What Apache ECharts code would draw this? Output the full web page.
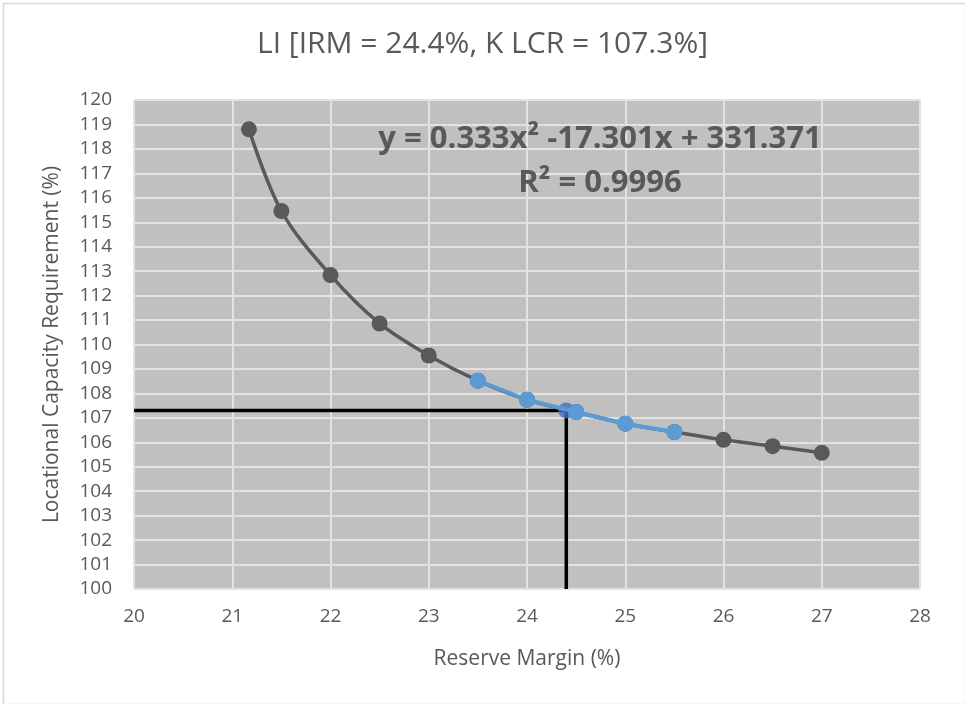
<!DOCTYPE html>
<html><head><meta charset="utf-8">
<script src="https://cdn.jsdelivr.net/npm/echarts@6/dist/echarts.min.js"></script>
<style>html,body{margin:0;padding:0;background:#fff}#c{width:965px;height:704px}</style>
</head><body><div id="c"></div>
<script>
const titleText = 'LI [IRM = 24.4%, K LCR = 107.3%]';
const xAxisName = 'Reserve Margin (%)';
const yAxisName = 'Locational Capacity Requirement (%)';
const reserveMargin = [21.17, 21.5, 22, 22.5, 23, 23.5, 24, 24.5, 25, 25.5, 26, 26.5, 27];
const lcr = [118.8, 115.46, 112.84, 110.86, 109.55, 108.52, 107.74, 107.24, 106.76, 106.42, 106.1, 105.84, 105.57];
const fitRM = [23.5, 24, 24.5, 25, 25.5];
const fitLCR = [108.52, 107.74, 107.24, 106.76, 106.42];
const irm = 24.4;
const kLcr = 107.3;
const xMin = 20, xMax = 28, yMin = 100, yMax = 120;
const eqLine1 = 'y = 0.333x² -17.301x + 331.371';
const eqLine2 = 'R² = 0.9996';

const chart = echarts.init(document.getElementById('c'), null, {renderer: 'canvas'});
const font = 'Open Sans, Noto Sans, sans-serif';
chart.setOption({
  backgroundColor: '#ffffff',
  animation: false,
  title: {
    text: titleText, left: 'center', top: 24,
    textStyle: {fontFamily: font, fontSize: 30, fontWeight: 'normal', color: '#595959'}
  },
  grid: {left: 134, right: 45, top: 100, bottom: 115, show: true, backgroundColor: '#c0c0c0', borderWidth: 0},
  xAxis: {
    type: 'value', min: xMin, max: xMax, interval: 1,
    name: xAxisName, nameLocation: 'middle', nameGap: 60,
    nameTextStyle: {fontFamily: font, fontSize: 21, color: '#595959'},
    axisLine: {show: false}, axisTick: {show: false},
    axisLabel: {fontFamily: font, fontSize: 19, color: '#595959', margin: 18},
    splitLine: {show: true, lineStyle: {color: '#e2e2e2', width: 2}}
  },
  yAxis: {
    type: 'value', min: yMin, max: yMax, interval: 1,
    name: yAxisName, nameLocation: 'middle', nameGap: 71,
    nameTextStyle: {fontFamily: font, fontSize: 21, color: '#595959'},
    axisLine: {show: false}, axisTick: {show: false},
    axisLabel: {fontFamily: font, fontSize: 19, color: '#595959', margin: 22},
    splitLine: {show: true, lineStyle: {color: '#e2e2e2', width: 2}}
  },
  series: [
    {
      type: 'line', name: 'guide', silent: true, symbol: 'none',
      data: [[xMin, kLcr], [irm, kLcr], [irm, yMin]],
      lineStyle: {color: '#000000', width: 3.5}, z: 2
    },
    {
      type: 'line', name: 'LCR', smooth: 0.35, symbol: 'circle', symbolSize: 16,
      data: reserveMargin.map((x, i) => [x, lcr[i]]),
      lineStyle: {color: '#595959', width: 3.5}, itemStyle: {color: '#595959'}, z: 3
    },
    {
      type: 'scatter', name: 'IRM', symbol: 'circle', symbolSize: 16,
      data: [[irm, kLcr]], itemStyle: {color: '#4472c4'}, z: 4
    },
    {
      type: 'line', name: 'fit', symbol: 'circle', symbolSize: 16,
      data: fitRM.map((x, i) => [x, fitLCR[i]]),
      lineStyle: {color: '#5b9bd5', width: 4}, itemStyle: {color: '#5b9bd5'}, z: 5
    }
  ],
  graphic: [
    {type: 'rect', left: 1, top: 1, shape: {width: 962, height: 701}, style: {fill: 'none', stroke: '#d9d9d9', lineWidth: 1.5}, silent: true},
    {type: 'text', x: 600, y: 139, style: {text: eqLine1, font: 'bold 31px ' + font, fill: '#595959', align: 'center', verticalAlign: 'middle'}, z: 10},
    {type: 'text', x: 600, y: 183, style: {text: eqLine2, font: 'bold 31px ' + font, fill: '#595959', align: 'center', verticalAlign: 'middle'}, z: 10}
  ]
});
</script></body></html>
